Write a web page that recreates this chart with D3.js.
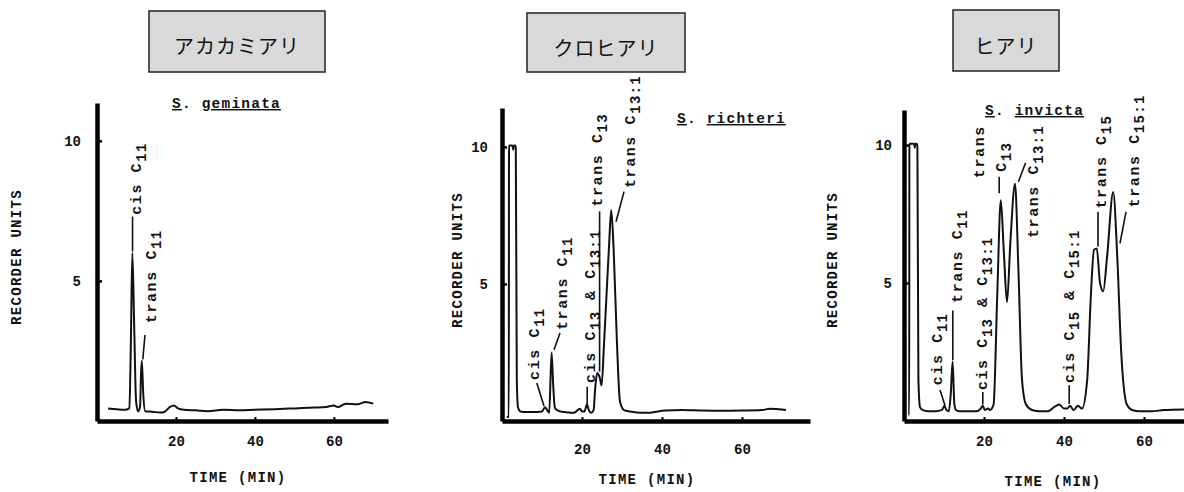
<!DOCTYPE html>
<html>
<head>
<meta charset="utf-8">
<script src="https://cdn.jsdelivr.net/npm/d3@7"></script>
<style>
  html, body { margin: 0; padding: 0; background: #fff; }
  svg { display: block; }
  .mono { font-family: "Liberation Mono", "Courier New", monospace; font-weight: bold; fill: #111; }
  .jp { font-family: "Noto Sans CJK JP", sans-serif; fill: #111; }
</style>
</head>
<body>
<svg id="chart" width="1184" height="492"></svg>
<script>
// ---------- DATA ----------
const boxTitles = ["アカカミアリ", "クロヒアリ", "ヒアリ"];
const speciesGenus = ["S", "S", "S"];
const speciesNames = ["geminata", "richteri", "invicta"];
const yAxisTitle = "RECORDER UNITS";
const xAxisTitle = "TIME (MIN)";
const yTickValues = [5, 10];
const xTickValues = [20, 40, 60];

// S. geminata trace (time in min, recorder units)
const geminataTime   = [2.8, 5, 7, 8.2, 8.6, 8.95, 9.4, 9.9, 10.4, 10.9, 11.15, 11.35, 11.7, 12.2, 14, 16, 17, 18.5, 19.5, 20.5, 22, 25, 28, 32, 36, 40, 45, 50, 55, 58, 60, 61, 63, 66, 68, 70];
const geminataSignal = [0.45, 0.42, 0.4, 0.45, 3.0, 6.0, 3.5, 0.7, 0.35, 0.5, 1.7, 2.15, 1.0, 0.35, 0.33, 0.3, 0.32, 0.5, 0.55, 0.45, 0.4, 0.38, 0.35, 0.4, 0.38, 0.4, 0.42, 0.45, 0.48, 0.5, 0.55, 0.5, 0.62, 0.6, 0.68, 0.62];

// S. richteri trace
const richteriTime   = [1.2, 1.7, 1.75, 2.6, 2.8, 2.95, 3.3, 3.45, 3.7, 4.0, 4.6, 6, 8, 10, 10.75, 11.3, 11.8, 12.4, 12.8, 13.2, 13.7, 14.5, 16, 18, 19.5, 20.0, 20.6, 21.25, 21.7, 22.3, 22.9, 23.3, 23.8, 24.4, 24.9, 25.5, 26.2, 26.8, 27.3, 27.9, 28.7, 29.5, 30.5, 32, 35, 37, 39, 41, 45, 50, 55, 60, 65, 67, 70, 71];
const richteriSignal = [0.15, 0.15, 10.05, 10.05, 9.9, 10.05, 10.05, 9.95, 1.5, 0.5, 0.35, 0.33, 0.33, 0.35, 0.5, 0.4, 0.3, 2.5, 1.3, 0.5, 0.4, 0.35, 0.32, 0.3, 0.45, 0.35, 0.35, 0.6, 0.4, 0.3, 0.4, 1.2, 1.75, 1.6, 1.3, 2.8, 4.8, 6.5, 7.7, 6.3, 3.0, 0.7, 0.4, 0.35, 0.3, 0.3, 0.35, 0.38, 0.4, 0.38, 0.37, 0.38, 0.4, 0.45, 0.42, 0.4];

// S. invicta trace
const invictaTime   = [1.2, 1.3, 1.35, 2.5, 2.7, 2.85, 3.2, 3.35, 3.6, 4.0, 4.6, 6, 8, 9.5, 10.1, 10.6, 11.2, 11.7, 12.15, 12.6, 13.0, 14, 16, 18, 19.2, 19.7, 20.2, 21.0, 21.5, 22.4, 23.3, 24.2, 25.0, 25.75, 26.6, 27.75, 28.6, 29.5, 30.5, 32, 34, 36, 37.5, 38.8, 40.0, 40.8, 41.5, 42.4, 43.5, 44.5, 45.8, 46.7, 47.5, 48.2, 49.0, 49.8, 50.8, 52.3, 53.3, 54.3, 55.7, 57, 59, 62, 65, 70];
const invictaSignal = [0.2, 0.2, 10.05, 10.05, 9.9, 10.05, 10.05, 9.95, 1.5, 0.5, 0.4, 0.35, 0.35, 0.4, 0.55, 0.4, 0.35, 1.0, 2.15, 0.6, 0.4, 0.35, 0.35, 0.35, 0.45, 0.55, 0.4, 0.45, 0.4, 0.6, 4.5, 8.0, 6.0, 4.3, 6.5, 8.6, 5.5, 1.5, 0.6, 0.4, 0.35, 0.35, 0.5, 0.6, 0.45, 0.45, 0.55, 0.4, 0.55, 0.45, 1.5, 4.5, 6.2, 6.25, 5.0, 4.7, 6.0, 8.3, 6.0, 2.5, 0.6, 0.4, 0.35, 0.35, 0.4, 0.42];

// peak annotations: label text (main + subscript), label foot (t, v), leader line points (t, v)
const geminataLabels = [
  { main: "cis C", sub: "11", t: 10.1, v: 7.36, lead: [[9.0, 7.3], [9.0, 6.05]] },
  { main: "trans C", sub: "11", t: 13.85, v: 3.49, lead: [[12.15, 3.07], [11.6, 2.2]] }
];
const richteriLabels = [
  { main: "cis C", sub: "11", t: 8.25, v: 1.5, lead: [[8.7, 1.39], [10.5, 0.55]] },
  { main: "trans C", sub: "11", t: 15.25, v: 3.32, lead: [[14.5, 3.21], [13.0, 2.6]] },
  { main: "cis C", sub: "13", main2: " & C", sub2: "13:1", t: 22.2, v: 1.39, lead: [[21.3, 1.25], [21.3, 0.62]] },
  { main: "trans C", sub: "13", t: 24.0, v: 7.82, lead: [[24.4, 7.65], [24.4, 1.8]] },
  { main: "trans C", sub: "13:1", t: 32.25, v: 8.5, lead: [[30.5, 8.37], [28.5, 7.27]] }
];
const invictaLabels = [
  { main: "cis C", sub: "11", t: 8.5, v: 1.3, lead: [[9.0, 1.12], [10.25, 0.56]] },
  { main: "trans C", sub: "11", t: 13.5, v: 4.28, lead: [[12.2, 4.0], [12.2, 2.2]] },
  { main: "cis C", sub: "13", main2: " & C", sub2: "13:1", t: 19.75, v: 1.12, lead: [[19.7, 1.05], [19.7, 0.6]] },
  { main: "trans", sub: "", t: 19.0, v: 8.8, lead: null },
  { main: "C", sub: "13", t: 24.4, v: 9.03, lead: [[23.8, 8.85], [23.8, 8.25]] },
  { main: "trans C", sub: "13:1", t: 32.5, v: 6.63, lead: [[30.4, 9.36], [28.6, 8.67]] },
  { main: "cis C", sub: "15", main2: " & C", sub2: "15:1", t: 41.5, v: 1.38, lead: [[41.3, 1.3], [41.3, 0.62]] },
  { main: "trans C", sub: "15", t: 49.4, v: 7.7, lead: [[48.5, 7.58], [48.5, 6.32]] },
  { main: "trans C", sub: "15:1", t: 57.75, v: 7.74, lead: [[55.5, 7.58], [54.0, 6.44]] }
];

// ---------- LAYOUT ----------
const layouts = [
  { time: geminataTime, signal: geminataSignal, labels: geminataLabels,
    xr: [97, 388], xMax: 73.7, yr: [421, 103], yMax: 11.35, yPad: 16, xPad: 15,
    box: { x: 149, y: 11, w: 176, h: 61, base: 54 },
    yTitle: [17, 257], xTitle: [238, 478], species: [172, 108] },
  { time: richteriTime, signal: richteriSignal, labels: richteriLabels,
    xr: [502, 810], xMax: 77, yr: [421, 108], yMax: 11.42, yPad: 14, xPad: 23,
    box: { x: 527, y: 13, w: 158, h: 59, base: 56 },
    yTitle: [458, 260], xTitle: [647, 480], species: [677, 123] },
  { time: invictaTime, signal: invictaSignal, labels: invictaLabels,
    xr: [904, 1184], xMax: 70, yr: [421, 110], yMax: 11.27, yPad: 12, xPad: 15,
    box: { x: 953, y: 10, w: 106, h: 61, base: 54 },
    yTitle: [833, 260], xTitle: [1053, 482], species: [985, 115] }
];

const svg = d3.select("#chart");

layouts.forEach((L, i) => {
  const g = svg.append("g");
  const x = d3.scaleLinear().domain([0, L.xMax]).range(L.xr);
  const y = d3.scaleLinear().domain([0, L.yMax]).range(L.yr);

  // title box
  g.append("rect")
    .attr("x", L.box.x).attr("y", L.box.y)
    .attr("width", L.box.w).attr("height", L.box.h)
    .attr("fill", "#d9d9d9").attr("stroke", "#222").attr("stroke-width", 1.5);
  g.append("text").attr("class", "jp")
    .attr("x", L.box.x + L.box.w / 2).attr("y", L.box.base)
    .attr("text-anchor", "middle")
    .attr("font-size", 20).attr("letter-spacing", 1)
    .text(boxTitles[i]);

  // axes
  const yAxis = d3.axisLeft(y).tickValues(yTickValues).tickSize(-5).tickSizeOuter(0)
    .tickPadding(L.yPad).tickFormat(d3.format("d"));
  const ya = g.append("g").attr("transform", `translate(${x(0)},0)`).call(yAxis);
  ya.select(".domain").attr("stroke", "#000").attr("stroke-width", 4.5);
  ya.selectAll(".tick line").attr("stroke", "#000").attr("stroke-width", 2.5);
  ya.selectAll(".tick text").attr("class", "mono").attr("font-size", 14).attr("fill", "#111");

  const xAxis = d3.axisBottom(x).tickValues(xTickValues).tickSize(-4).tickSizeOuter(0)
    .tickPadding(L.xPad).tickFormat(d3.format("d"));
  const xa = g.append("g").attr("transform", `translate(0,${y(0)})`).call(xAxis);
  xa.select(".domain").attr("stroke", "#000").attr("stroke-width", 4.5);
  xa.selectAll(".tick line").attr("stroke", "#000").attr("stroke-width", 2);
  xa.selectAll(".tick text").attr("class", "mono").attr("font-size", 14).attr("fill", "#111");

  // axis titles
  g.append("text").attr("class", "mono")
    .attr("transform", `translate(${L.yTitle[0]},${L.yTitle[1]}) rotate(-90)`)
    .attr("text-anchor", "middle").attr("dominant-baseline", "central")
    .attr("font-size", 14).attr("letter-spacing", 1.3)
    .text(yAxisTitle);
  g.append("text").attr("class", "mono")
    .attr("x", L.xTitle[0]).attr("y", L.xTitle[1])
    .attr("text-anchor", "middle").attr("dominant-baseline", "central")
    .attr("font-size", 14).attr("letter-spacing", 1.3)
    .text(xAxisTitle);

  // species name
  const sp = g.append("text").attr("class", "mono")
    .attr("x", L.species[0]).attr("y", L.species[1])
    .attr("font-size", 14.5).attr("letter-spacing", 1.2);
  sp.append("tspan").attr("text-decoration", "underline").text(speciesGenus[i]);
  sp.append("tspan").text(". ");
  sp.append("tspan").attr("text-decoration", "underline").text(speciesNames[i]);

  // trace
  const pts = L.time.map((t, k) => [t, L.signal[k]]);
  const line = d3.line().x(d => x(d[0])).y(d => y(d[1])).curve(d3.curveMonotoneX);
  g.append("path").datum(pts)
    .attr("d", line)
    .attr("fill", "none").attr("stroke", "#111")
    .attr("stroke-width", 2).attr("stroke-linejoin", "round");

  // peak labels
  const lead = d3.line().x(d => x(d[0])).y(d => y(d[1]));
  L.labels.forEach(lb => {
    if (lb.lead) {
      g.append("path").attr("d", lead(lb.lead))
        .attr("fill", "none").attr("stroke", "#111").attr("stroke-width", 1.6);
    }
    const tx = g.append("text").attr("class", "mono")
      .attr("transform", `translate(${x(lb.t)},${y(lb.v)}) rotate(-90)`)
      .attr("dominant-baseline", "central")
      .attr("font-size", 15).attr("letter-spacing", 1.6);
    tx.append("tspan").text(lb.main);
    if (lb.sub) {
      tx.append("tspan").attr("dy", 5).attr("font-size", 14).attr("letter-spacing", 1.3).text(lb.sub);
    }
    if (lb.main2) {
      tx.append("tspan").attr("dy", -5).text(lb.main2);
      tx.append("tspan").attr("dy", 5).attr("font-size", 14).attr("letter-spacing", 1.3).text(lb.sub2);
    }
  });
});
</script>
</body>
</html>
